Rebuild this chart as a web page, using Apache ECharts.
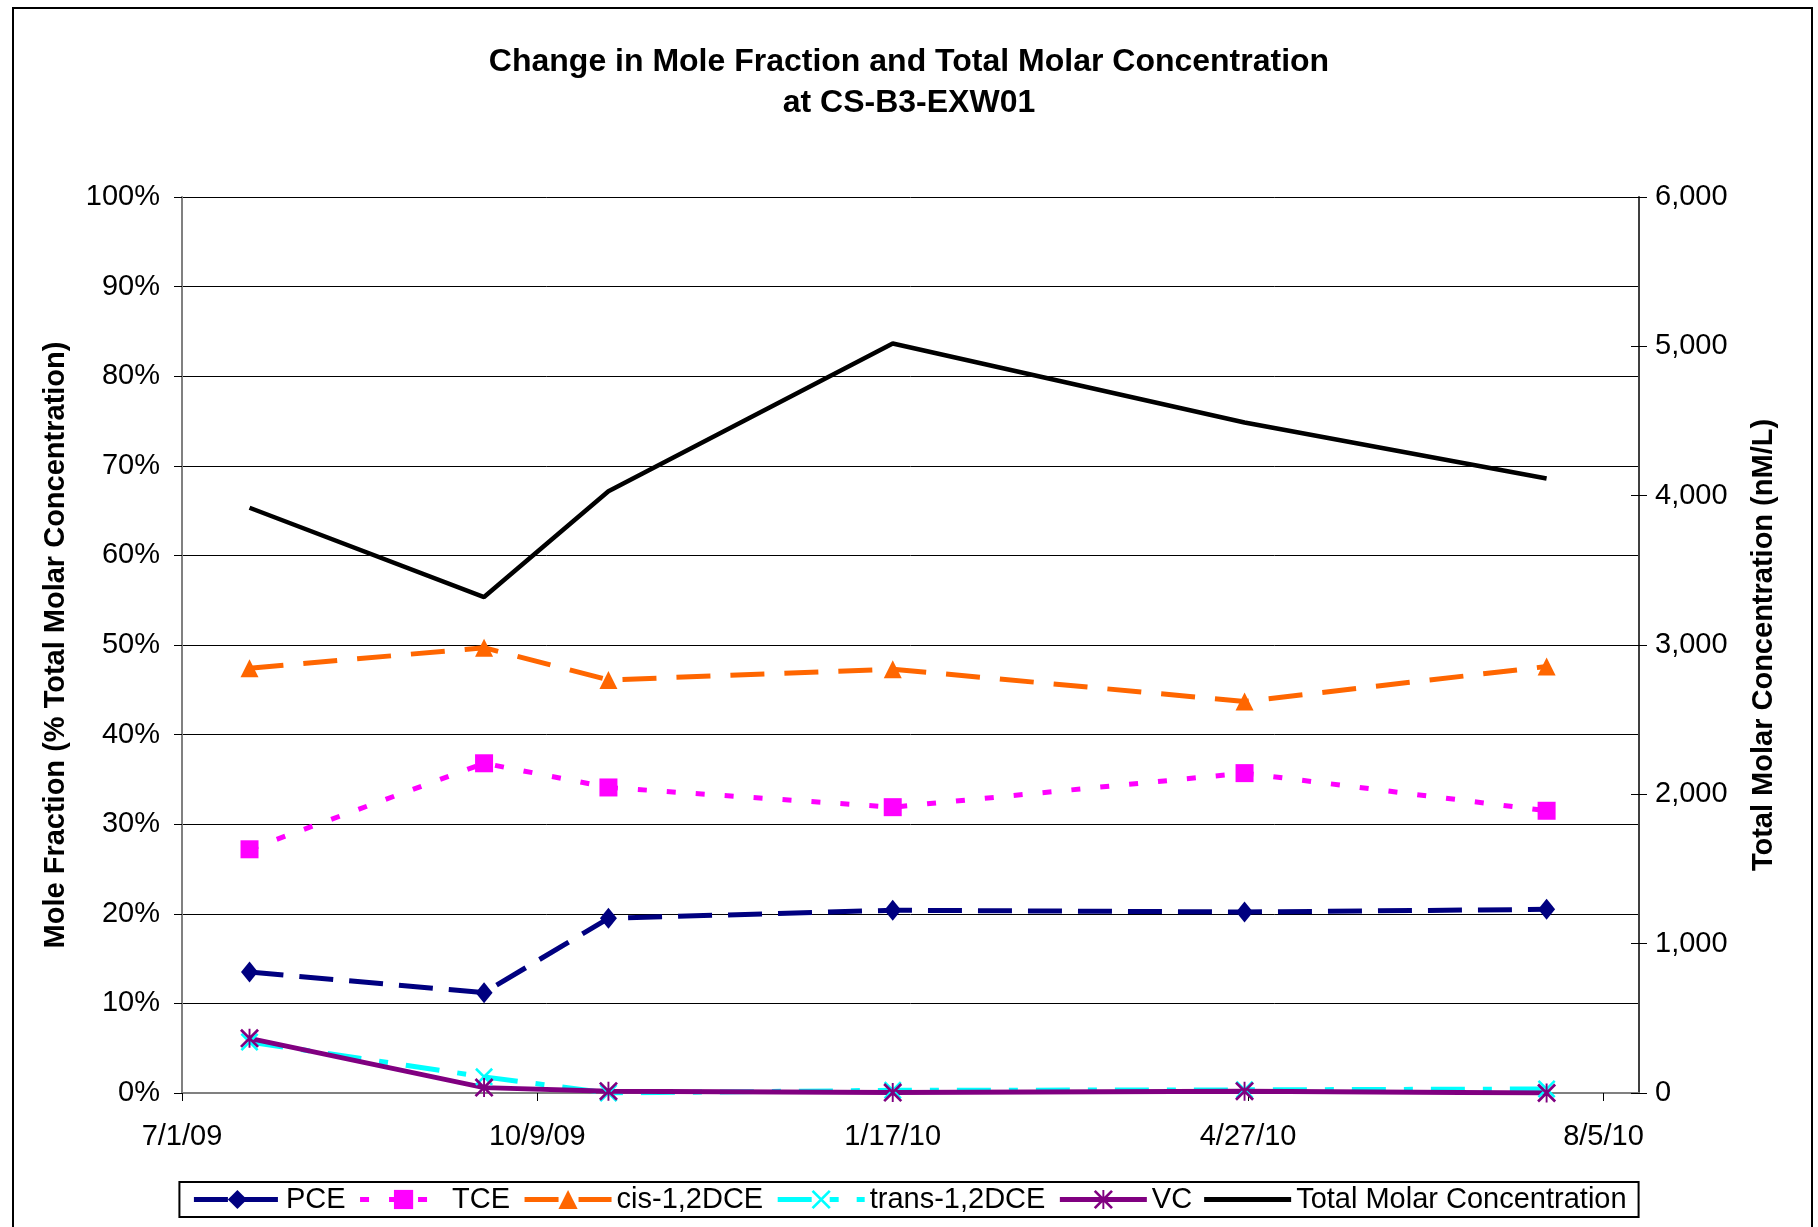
<!DOCTYPE html>
<html>
<head>
<meta charset="utf-8">
<script src="https://cdn.jsdelivr.net/npm/echarts@6/dist/echarts.min.js"></script>
<style>
  html, body { margin: 0; padding: 0; background: #fff; }
  #chart { width: 1818px; height: 1227px; }
</style>
</head>
<body>
<div id="chart"></div>
<script>
  // sample dates and values
  var sampleDates = ['2009-07-20', '2009-09-24', '2009-10-29', '2010-01-17', '2010-04-26', '2010-07-20'];
  var pce = [13.5, 11.2, 19.5, 20.4, 20.2, 20.5];
  var tce = [27.2, 36.8, 34.1, 31.9, 35.7, 31.5];
  var cisDce = [47.4, 49.7, 46.1, 47.3, 43.7, 47.6];
  var transDce = [5.7, 1.8, 0.0, 0.3, 0.35, 0.45];
  var vc = [6.1, 0.6, 0.2, 0.05, 0.2, 0.0];
  var totalMolar = [3919, 3321, 4029, 5019, 4490, 4115];

  var axisStart = '2009-07-01';   // x axis starts here, ticks every 100 days
  var dayMs = 86400000;
  var baseMs = Date.parse(axisStart);

  function dayOf(d) { return (Date.parse(d) - baseMs) / dayMs; }
  function pairs(vals) {
    return vals.map(function (v, i) { return [dayOf(sampleDates[i]), v]; });
  }
  function dateLabel(v) {
    var d = new Date(baseMs + v * dayMs);
    var yy = ('0' + (d.getUTCFullYear() % 100)).slice(-2);
    return (d.getUTCMonth() + 1) + '/' + d.getUTCDate() + '/' + yy;
  }

  var font = "'Liberation Sans', Arial, sans-serif";
  // star / x markers drawn as filled bars
  var xMark = 'path://M0 2L2 0L20 18L18 20ZM18 0L20 2L2 20L0 18Z';
  var starMark = 'path://M0 2L2 0L20 18L18 20ZM18 0L20 2L2 20L0 18ZM9 0L11 0L11 20L9 20Z';
  // plain thick line for the legend of the total series
  var barIcon = 'path://M0 0H87V0.05H0ZM0 9.5H87V14.5H0ZM0 23.95H87V24H0Z';

  var chart = echarts.init(document.getElementById('chart'));

  var option = {
    backgroundColor: '#fff',
    animation: false,
    textStyle: { fontFamily: font, color: '#000' },
    title: {
      text: 'Change in Mole Fraction and Total Molar Concentration\nat CS-B3-EXW01',
      left: 'center',
      top: 37,
      textStyle: { fontFamily: font, fontSize: 32, fontWeight: 'bold', color: '#000', lineHeight: 41 }
    },
    graphic: [{
      type: 'rect',
      shape: { x: 13, y: 8, width: 1799, height: 1240 },
      style: { fill: 'none', stroke: '#000', lineWidth: 2 },
      silent: true
    }],
    legend: {
      left: 'center',
      top: 1182,
      padding: [3, 12],
      itemGap: 12,
      itemWidth: 87,
      itemHeight: 24,
      borderColor: '#000',
      borderWidth: 2,
      lineStyle: { width: 'inherit' },
      textStyle: { fontFamily: font, fontSize: 29, color: '#000' },
      data: ['PCE', 'TCE', 'cis-1,2DCE', 'trans-1,2DCE', 'VC',
        { name: 'Total Molar Concentration', icon: barIcon }]
    },
    grid: { left: 182, right: 179, top: 197, bottom: 134 },
    xAxis: {
      type: 'value',
      min: 0,
      max: 410,
      interval: 100,
      axisLine: { lineStyle: { color: '#808080', width: 2 } },
      axisTick: { show: true, length: 8, lineStyle: { color: '#000', width: 1 } },
      splitLine: { show: false },
      axisLabel: {
        fontSize: 29, color: '#000', margin: 29, showMaxLabel: false,
        formatter: dateLabel
      }
    },
    yAxis: [{
      type: 'value',
      position: 'left',
      min: 0,
      max: 100,
      interval: 10,
      name: 'Mole Fraction (% Total Molar Concentration)',
      nameLocation: 'middle',
      nameRotate: 90,
      nameGap: 112,
      nameTextStyle: { fontFamily: font, fontSize: 29, fontWeight: 'bold', color: '#000' },
      axisLine: { show: true, lineStyle: { color: '#808080', width: 2 } },
      axisTick: { show: true, length: 8, lineStyle: { color: '#000', width: 1 } },
      splitLine: { show: true, lineStyle: { color: '#000', width: 1 } },
      axisLabel: { fontSize: 29, color: '#000', margin: 22, formatter: '{value}%' }
    }, {
      type: 'value',
      position: 'right',
      min: 0,
      max: 6000,
      interval: 1000,
      name: 'Total Molar Concentration (nM/L)',
      nameLocation: 'middle',
      nameRotate: 90,
      nameGap: 110,
      nameTextStyle: { fontFamily: font, fontSize: 29, fontWeight: 'bold', color: '#000' },
      axisLine: { show: true, lineStyle: { color: '#404040', width: 2 } },
      axisTick: { show: true, length: 8, lineStyle: { color: '#000', width: 1 } },
      splitLine: { show: false },
      axisLabel: {
        fontSize: 29, color: '#000', margin: 16,
        formatter: function (v) { return v.toLocaleString('en-US'); }
      }
    }, {
      // inner half of the crossing ticks on the right axis
      type: 'value',
      position: 'right',
      min: 0,
      max: 6000,
      interval: 1000,
      axisLine: { show: false },
      axisTick: { show: true, inside: true, length: 8, lineStyle: { color: '#000', width: 1 } },
      splitLine: { show: false },
      axisLabel: { show: false }
    }],
    series: [{
      name: 'PCE',
      type: 'line',
      data: pairs(pce),
      symbol: 'diamond',
      symbolSize: [17, 21],
      color: '#000080',
      lineStyle: { color: '#000080', width: 5, type: [34, 16] },
      itemStyle: { color: '#000080' }
    }, {
      name: 'TCE',
      type: 'line',
      data: pairs(tce),
      symbol: 'rect',
      symbolSize: 18,
      color: '#FF00FF',
      lineStyle: { color: '#FF00FF', width: 5, type: [9, 20] },
      itemStyle: { color: '#FF00FF' }
    }, {
      name: 'cis-1,2DCE',
      type: 'line',
      data: pairs(cisDce),
      symbol: 'triangle',
      symbolSize: 18,
      color: '#FF6600',
      lineStyle: { color: '#FF6600', width: 5, type: [34, 20] },
      itemStyle: { color: '#FF6600' }
    }, {
      name: 'trans-1,2DCE',
      type: 'line',
      data: pairs(transDce),
      symbol: xMark,
      symbolSize: 18,
      color: '#00FFFF',
      lineStyle: { color: '#00FFFF', width: 5, type: [34, 18, 9, 18] },
      itemStyle: { color: '#00FFFF' }
    }, {
      name: 'VC',
      type: 'line',
      data: pairs(vc),
      symbol: starMark,
      symbolSize: 19,
      color: '#800080',
      lineStyle: { color: '#800080', width: 5 },
      itemStyle: { color: '#800080' }
    }, {
      name: 'Total Molar Concentration',
      type: 'line',
      yAxisIndex: 1,
      data: pairs(totalMolar),
      showSymbol: false,
      symbol: 'none',
      color: '#000',
      lineStyle: { color: '#000', width: 4.5 }
    }]
  };

  option && chart.setOption(option);
</script>
</body>
</html>
